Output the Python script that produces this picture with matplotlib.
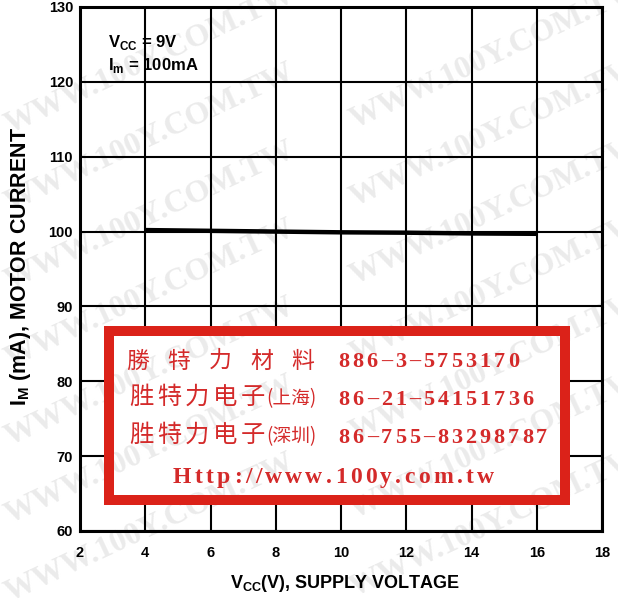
import numpy as np
import matplotlib

matplotlib.use("Agg")
import matplotlib.pyplot as plt
from matplotlib.patches import Rectangle
from matplotlib.transforms import Bbox
from matplotlib.font_manager import FontProperties

# ---- data ----
voltage = [4, 6, 8, 10, 12, 14, 16]
current = [100.2, 100.1, 100.0, 99.9, 99.85, 99.75, 99.7]
x_ticks = [2, 4, 6, 8, 10, 12, 14, 16, 18]
y_ticks = [60, 70, 80, 90, 100, 110, 120, 130]

cond_vcc = r"V$_\mathrm{CC}$ = 9V"
cond_im = r"I$_\mathrm{m}$ = 100mA"
x_label = r"V$_\mathrm{CC}$(V), SUPPLY VOLTAGE"
y_label = r"I$_\mathrm{M}$ (mA), MOTOR CURRENT"

stamp_names = ["勝特力材料", "胜特力电子", "胜特力电子"]
stamp_cities = ["", "(上海)", "(深圳)"]
stamp_phones = ["886-3-5753170", "86-21-54151736", "86-755-83298787"]
stamp_url = "Http://www.100y.com.tw"
watermark = "WWW.100Y.COM.TW"

W, H = 618, 601
RED_BOX = "#db2219"
RED_TXT = "#d42a2a"

plt.rcParams["mathtext.fontset"] = "custom"
plt.rcParams["mathtext.rm"] = "Liberation Sans:bold"
plt.rcParams["mathtext.bf"] = "Liberation Sans:bold"


def fx(px):
    return px / W


def fy(py):
    return 1 - py / H


fig = plt.figure(figsize=(W / 100, H / 100), dpi=100)
fig.patch.set_facecolor("white")
renderer = fig.canvas.get_renderer()


def add_watermarks(zorder, clip=None):
    ang = np.deg2rad(25)
    a = np.array([380 * np.cos(ang), -380 * np.sin(ang)])
    b = np.array([0.0, 78.0])
    origin = np.array([150.0, 60.0])
    for i in range(-4, 5):
        for j in range(-6, 14):
            cx, cy = origin + i * a + j * b
            if 0 < cx < W and 0 < cy < H:
                t = fig.text(fx(cx), fy(cy), watermark, rotation=25,
                             ha="center", va="center", fontsize=23,
                             family="Liberation Serif", weight="bold",
                             color="#ebebeb", zorder=zorder,
                             rotation_mode="anchor")
                if clip is not None:
                    t.set_clip_box(clip)


add_watermarks(-1)

ax = fig.add_axes([fx(80), fy(531), (602 - 80) / W, (531 - 7) / H])
ax.patch.set_visible(False)
ax.set_xlim(2, 18)
ax.set_ylim(60, 130)
ax.set_xticks(x_ticks)
ax.set_yticks(y_ticks)
ax.grid(True, color="black", linewidth=1.5)
ax.set_axisbelow(True)
for s in ax.spines.values():
    s.set_linewidth(2.2)
ax.tick_params(length=0)
ax.tick_params(axis="x", pad=11)
ax.tick_params(axis="y", pad=5)
for lab in ax.get_xticklabels() + ax.get_yticklabels():
    lab.set_family("Liberation Sans")
    lab.set_weight("bold")
    lab.set_fontsize(10.5)

ax.plot(voltage, current, color="black", linewidth=3.2, solid_capstyle="butt", zorder=3)

ax.text(2.86, 124.6, cond_vcc, fontsize=12, family="Liberation Sans", weight="bold")
ax.text(2.86, 121.6, cond_im, fontsize=12, family="Liberation Sans", weight="bold")

fig.text(fx(345), fy(584), x_label, ha="center", va="center", fontsize=13,
         family="Liberation Sans", weight="bold")
fig.text(fx(21), fy(266), y_label, ha="center", va="center", rotation=90,
         fontsize=15.5, family="Liberation Sans", weight="bold")

# ---- red stamp overlay ----
fig.add_artist(Rectangle((fx(104), fy(505)), (570 - 104) / W, (505 - 326) / H,
                         transform=fig.transFigure, facecolor="white",
                         edgecolor="none", zorder=5))
add_watermarks(6, clip=Bbox.from_extents(104, H - 505, 570, H - 326))
fig.add_artist(Rectangle((fx(109), fy(500)), (565 - 109) / W, (500 - 331) / H,
                         transform=fig.transFigure, facecolor="none",
                         edgecolor=RED_BOX, linewidth=7.2, joinstyle="miter",
                         zorder=7))


def spaced(x0, y, text, pitch, **kw):
    for i, ch in enumerate(text):
        if ch == "-":
            ch = "–"
        fig.text(fx(x0 + pitch * (i + 0.5)), fy(y), ch, ha="center", **kw)


def tracked(x0, x1, y, text, family, size, weight, **kw):
    fp = FontProperties(family=family, size=size, weight=weight)
    widths = [renderer.get_text_width_height_descent(c, fp, ismath=False)[0]
              for c in text]
    gap = (x1 - x0 - sum(widths)) / (len(text) - 1)
    x = x0
    for c, w in zip(text, widths):
        fig.text(fx(x), fy(y), c, ha="left", fontproperties=fp, **kw)
        x += w + gap


cjk_fam = ["Noto Sans CJK TC", "DejaVu Sans"]
cjk = dict(family=cjk_fam, color=RED_TXT, zorder=8, va="center")
serif = dict(family="Liberation Serif", weight="bold", color=RED_TXT, zorder=8, va="baseline")

name_y = [361, 397, 435]
phone_y = [367, 405, 443]
for k in range(3):
    if k == 0:
        spaced(117.4, name_y[k], stamp_names[k], 41.2, fontsize=16.5, **cjk)
    else:
        spaced(127, name_y[k], stamp_names[k], 28.0, fontsize=17.5, **cjk)
        fig.text(fx(266), fy(name_y[k] + 2), stamp_cities[k], ha="left",
                 fontsize=13.5, **cjk)
    spaced(337, phone_y[k], stamp_phones[k], 14.1, fontsize=16, **serif)

tracked(173, 494, 483, stamp_url, "Liberation Serif", 17, "bold",
        color=RED_TXT, zorder=8, va="baseline")

fig.savefig("out.png", dpi=100)
